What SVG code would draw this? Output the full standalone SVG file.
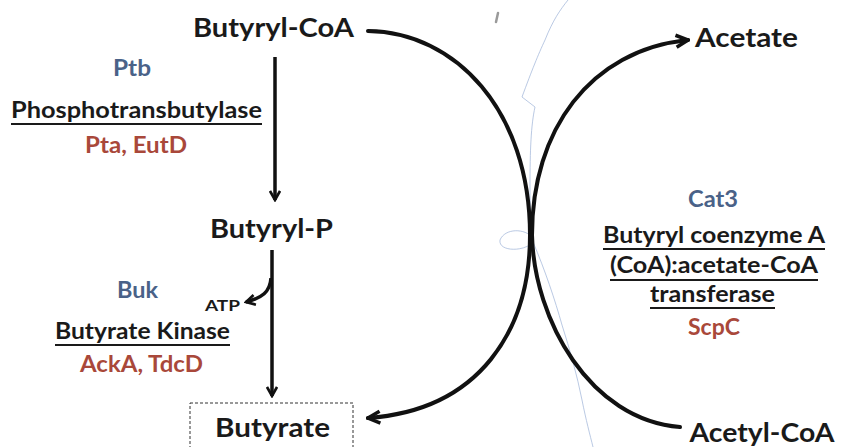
<svg xmlns="http://www.w3.org/2000/svg" width="841" height="447" viewBox="0 0 841 447">
<style>
text{font-family:Lato,"Open Sans","Liberation Sans",sans-serif;font-weight:700;text-anchor:middle}
.m{fill:#1a1a1a;font-size:27px}
.e{fill:#1a1a1a;font-size:22px}
.b{fill:#4a6288;font-size:22px}
.r{fill:#a9483a;font-size:22px}
.s{fill:#1a1a1a;font-size:15px}
.ul{stroke:#1a1a1a;stroke-width:2}
.c{fill:none;stroke:#111;stroke-width:4;stroke-linecap:round}
.v{fill:none;stroke:#111;stroke-width:3.5}
.hair{fill:none;stroke:#9fb4d8;stroke-width:0.9;opacity:0.8}
</style>
<defs>
<marker id="ah" viewBox="0 0 12 12" refX="10" refY="6" markerWidth="12" markerHeight="12" markerUnits="userSpaceOnUse" orient="auto">
<path d="M1,1 L10,6 L1,11" fill="none" stroke="#111" stroke-width="2.6" stroke-linejoin="miter"/>
</marker>
<marker id="ah2" viewBox="0 0 16 16" refX="14" refY="8" markerWidth="16" markerHeight="16" markerUnits="userSpaceOnUse" orient="auto">
<path d="M2,2 L14,8 L2,14" fill="none" stroke="#111" stroke-width="3.5" stroke-linejoin="miter"/>
</marker>
</defs>
<rect width="841" height="447" fill="#fff"/>
<g id="scan-marks">
<path class="hair" d="M568,0 C560,10 553,20 545,40 C538,55 532,70 522,97 L535,107 C531,125 530,150 530,187 C530,210 531,225 533,238 C525,228 505,228 500,240 C498,252 525,252 533,242 C545,270 555,300 562,325 C570,350 577,375 582,400 C586,420 590,435 593,447"/>
<path d="M498,13 L496,22" stroke="#9a9a9a" stroke-width="2.5" stroke-linecap="round"/>
</g>
<g id="connectors">
<path class="v" d="M275,57 L275,200" marker-end="url(#ah)"/>
<path class="v" d="M272,250 L272,396" marker-end="url(#ah)"/>
<path class="v" d="M271,278 C270,292 262,298 246,302" marker-end="url(#ah)" stroke-width="3"/>
<path class="c" d="M368,31 C455,32 530,110 530,235 C530,330 480,410 368,418" marker-end="url(#ah2)"/>
<path class="c" d="M680,427 C590,420 534,320 532,235 C532,130 590,50 688,40" marker-end="url(#ah2)"/>
</g>
<g id="butyryl-coa"><text class="m" x="273.5" y="37" textLength="161" lengthAdjust="spacingAndGlyphs">Butyryl-CoA</text></g>
<g id="ptb-label">
<text class="b" x="132" y="76" textLength="38" lengthAdjust="spacingAndGlyphs">Ptb</text>
<text class="e" x="136.5" y="118" textLength="251" lengthAdjust="spacingAndGlyphs">Phosphotransbutylase</text>
<line class="ul" x1="11" y1="124" x2="262" y2="124"/>
<text class="r" x="136" y="153" textLength="102" lengthAdjust="spacingAndGlyphs">Pta, EutD</text>
</g>
<g id="butyryl-p"><text class="m" x="271.5" y="238" textLength="123" lengthAdjust="spacingAndGlyphs">Butyryl-P</text></g>
<g id="atp"><text class="s" x="222.5" y="311" textLength="35" lengthAdjust="spacingAndGlyphs">ATP</text></g>
<g id="buk-label">
<text class="b" x="137.5" y="298" textLength="41" lengthAdjust="spacingAndGlyphs">Buk</text>
<text class="e" x="142.5" y="339" textLength="175" lengthAdjust="spacingAndGlyphs">Butyrate Kinase</text>
<line class="ul" x1="55" y1="345" x2="230" y2="345"/>
<text class="r" x="141.5" y="372" textLength="123" lengthAdjust="spacingAndGlyphs">AckA, TdcD</text>
</g>
<g id="butyrate">
<rect x="190" y="403" width="163" height="60" fill="none" stroke="#333" stroke-width="1" stroke-dasharray="3,2"/>
<text class="m" x="272.5" y="437" textLength="115" lengthAdjust="spacingAndGlyphs">Butyrate</text>
</g>
<g id="acetate"><text class="m" x="746.5" y="47" textLength="103" lengthAdjust="spacingAndGlyphs">Acetate</text></g>
<g id="cat3-label">
<text class="b" x="713" y="207" textLength="50" lengthAdjust="spacingAndGlyphs">Cat3</text>
<text class="e" x="714" y="243" textLength="222" lengthAdjust="spacingAndGlyphs">Butyryl coenzyme A</text>
<line class="ul" x1="603" y1="249" x2="825" y2="249"/>
<text class="e" x="714" y="273" textLength="208" lengthAdjust="spacingAndGlyphs">(CoA):acetate-CoA</text>
<line class="ul" x1="610" y1="280" x2="818" y2="280"/>
<text class="e" x="712.5" y="302" textLength="125" lengthAdjust="spacingAndGlyphs">transferase</text>
<line class="ul" x1="650" y1="308" x2="775" y2="308"/>
<text class="r" x="714" y="335" textLength="52" lengthAdjust="spacingAndGlyphs">ScpC</text>
</g>
<g id="acetyl-coa"><text class="m" x="762" y="442" textLength="145" lengthAdjust="spacingAndGlyphs">Acetyl-CoA</text></g>
</svg>
